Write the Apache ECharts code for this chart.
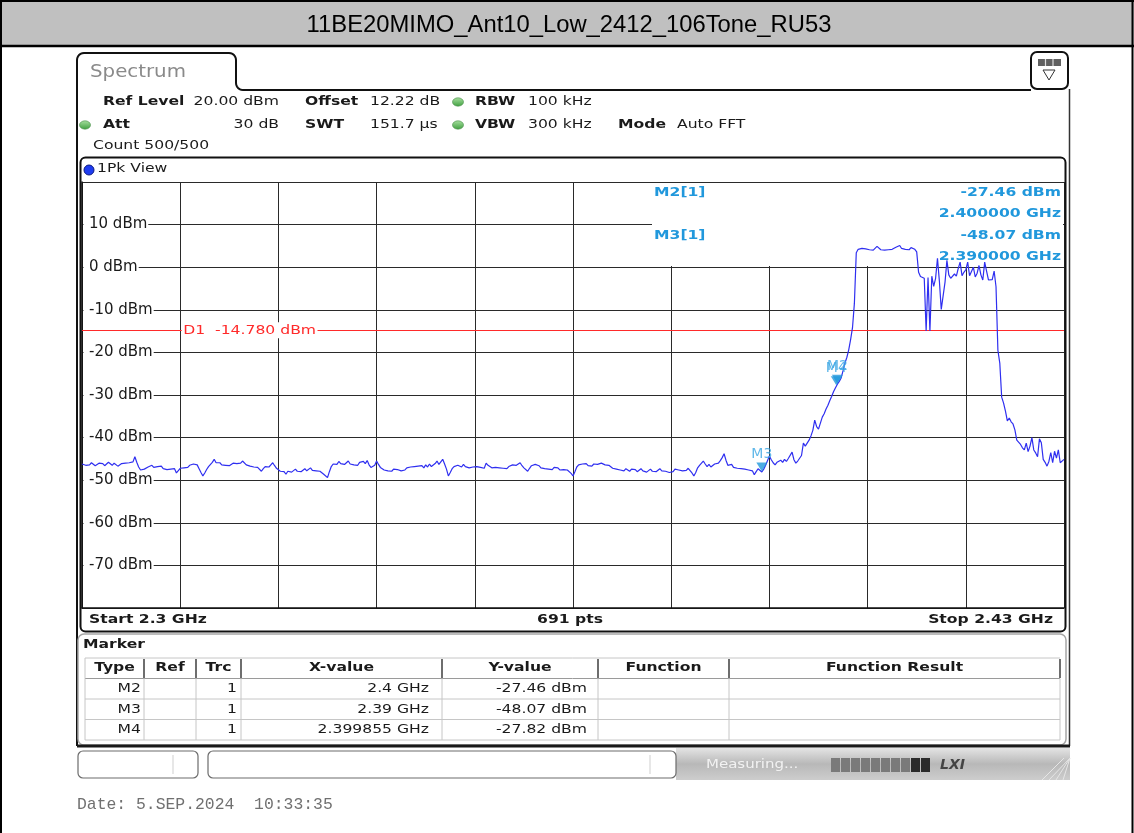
<!DOCTYPE html>
<html>
<head>
<meta charset="utf-8">
<title>11BE20MIMO_Ant10_Low_2412_106Tone_RU53</title>
<script src="https://cdn.jsdelivr.net/npm/echarts@6/dist/echarts.min.js"></script>
<style>
  html, body { margin: 0; padding: 0; background: #fff; }
  #chart { width: 1134px; height: 833px; }
</style>
</head>
<body>
<div id="chart"></div>
<script>
// ---- measurement values ----
const plotTitle = '11BE20MIMO_Ant10_Low_2412_106Tone_RU53';
const sweepStartGHz = 2.3;
const sweepStopGHz = 2.43;
const sweepPoints = 691;
const traceStepMHz = 0.25;
const levelMaxDbm = 20;
const levelMinDbm = -80;
const levelStepDb = 10;
const d1LevelDbm = -14.78;

const markerNames = ['M2', 'M3', 'M4'];
const markerFreqGHz = [2.4, 2.39, 2.399855];
const markerLevelDbm = [-27.46, -48.07, -27.82];
const markerTraceNo = [1, 1, 1];

// max-peak trace, one value every 0.25 MHz from the start frequency
const traceDbm = [
  -46.2,-46.0,-46.5,-46.1,-46.4,-45.9,-46.3,-46.6,-46.2,-46.0,-46.4,-46.1,-46.6,-46.3,-45.8,-46.2,-46.5,-46.0,-46.3,-46.7,
  -46.4,-46.1,-46.5,-46.0,-46.3,-45.9,-46.2,-45.7,-44.5,-45.8,-46.9,-47.6,-47.8,-47.4,-47.6,-46.9,-47.2,-46.5,-47.0,-46.6,
  -46.8,-47.2,-46.7,-47.3,-47.0,-47.5,-47.1,-47.4,-47.8,-47.3,-48.3,-47.9,-47.2,-47.5,-47.1,-47.4,-47.0,-46.5,-46.8,-46.2,
  -45.9,-46.4,-47.3,-48.2,-49.0,-48.3,-47.5,-46.8,-46.4,-45.8,-45.1,-45.9,-46.3,-45.9,-46.4,-46.0,-46.5,-46.1,-46.6,-46.2,
  -46.0,-46.4,-46.1,-46.5,-46.0,-45.5,-45.9,-46.4,-46.0,-46.7,-46.3,-46.9,-46.5,-47.0,-47.4,-47.9,-47.3,-46.8,-46.4,-46.9,
  -46.4,-45.9,-46.6,-47.2,-47.6,-47.9,-47.5,-48.0,-48.6,-47.9,-47.6,-48.1,-47.7,-47.4,-47.9,-47.5,-48.0,-47.6,-47.3,-47.8,
  -47.5,-47.1,-47.7,-47.3,-47.8,-47.4,-47.9,-48.2,-48.6,-49.0,-49.4,-48.0,-46.8,-46.2,-45.8,-46.3,-45.6,-46.1,-45.7,-46.3,
  -46.0,-45.5,-46.2,-45.9,-46.4,-46.0,-46.5,-45.8,-46.2,-45.6,-46.1,-45.4,-46.4,-47.0,-47.3,-46.5,-45.5,-46.3,-47.0,-47.4,
  -47.6,-47.3,-47.8,-47.5,-47.9,-47.4,-47.7,-47.5,-47.2,-47.8,-47.4,-47.6,-47.1,-47.5,-46.9,-47.3,-46.8,-47.2,-46.7,-47.0,
  -46.6,-47.1,-46.4,-46.9,-46.2,-46.8,-46.6,-46.1,-45.5,-46.3,-45.9,-45.1,-46.2,-47.4,-49.0,-48.2,-47.3,-46.8,-47.0,-46.5,
  -46.4,-46.9,-46.3,-46.8,-46.5,-47.1,-46.7,-46.9,-46.5,-46.8,-46.6,-47.0,-46.7,-47.2,-46.0,-46.5,-46.9,-47.1,-46.7,-47.0,
  -46.7,-47.1,-46.8,-47.2,-46.9,-47.3,-46.8,-47.0,-46.4,-46.8,-46.5,-46.2,-45.9,-46.6,-47.1,-47.5,-47.9,-47.2,-46.6,-46.2,
  -46.3,-45.9,-46.6,-47.1,-46.8,-47.3,-47.0,-47.4,-47.1,-47.5,-47.0,-47.3,-47.1,-47.6,-47.2,-47.5,-47.1,-47.6,-47.9,-48.4,
  -49.0,-48.0,-46.9,-46.4,-46.6,-46.2,-46.5,-46.1,-46.6,-46.3,-46.7,-46.2,-45.8,-46.3,-46.5,-46.0,-45.8,-46.4,-46.7,-46.5,
  -46.9,-47.2,-46.8,-47.4,-47.0,-47.6,-47.2,-47.8,-47.3,-47.6,-47.9,-47.4,-47.8,-47.5,-48.0,-47.6,-47.3,-47.8,-47.5,-48.1,
  -47.7,-47.4,-47.9,-47.5,-48.0,-47.6,-47.3,-47.8,-47.5,-47.9,-47.6,-48.2,-48.6,-48.0,-47.4,-47.1,-47.6,-47.3,-47.8,-47.4,
  -47.7,-47.2,-47.6,-48.3,-49.0,-48.2,-47.1,-46.5,-46.1,-45.5,-46.2,-46.8,-46.3,-46.9,-46.6,-46.2,-46.5,-46.0,-45.4,-44.7,
  -43.8,-45.3,-46.5,-46.9,-46.3,-47.0,-46.6,-47.2,-46.8,-47.3,-46.9,-47.4,-47.0,-47.6,-47.2,-47.8,-48.7,-48.0,-47.3,-47.6,
  -48.07,-47.4,-46.5,-46.9,-44.3,-45.2,-45.9,-46.4,-45.8,-46.2,-45.3,-45.8,-45.1,-45.6,-44.9,-44.6,-43.4,-45.2,-46.0,-45.5,
  -45.3,-44.2,-41.3,-42.0,-42.2,-40.6,-39.6,-38.3,-35.9,-37.4,-38.0,-37.6,-35.2,-34.4,-33.3,-32.4,-31.3,-30.3,-29.2,-28.3,
  -27.46,-26.8,-26.0,-24.3,-22.5,-21.2,-19.4,-17.0,-14.2,-8.5,3.4,4.2,4.0,4.4,4.8,4.3,4.6,4.1,4.4,4.0,
  4.3,4.9,4.5,4.1,4.4,4.0,4.3,4.1,4.5,4.2,4.4,4.7,4.3,5.1,4.4,4.8,4.2,4.4,4.1,4.6,
  4.4,4.2,3.6,-1.2,-2.2,-2.0,-2.6,-15.0,-2.4,-15.0,-2.1,-4.5,-2.6,2.1,-3.2,-9.9,-10.3,-3.5,1.6,-1.8,
  -2.6,-2.8,-1.6,-2.1,-0.3,1.2,-2.0,-1.2,-0.6,1.2,-2.0,-1.6,0.0,-2.3,-1.4,0.4,-1.8,-3.0,1.2,-0.9,
  -3.0,-3.2,-2.9,-0.9,-4.6,-19.5,-22.5,-30.5,-31.9,-33.8,-36.1,-35.4,-36.3,-36.8,-38.2,-40.6,-40.9,-41.6,-42.4,-42.9,
  -41.3,-43.3,-42.0,-40.0,-42.9,-43.6,-44.5,-40.3,-41.2,-45.1,-45.8,-46.7,-45.6,-43.5,-45.9,-43.2,-44.8,-42.9,-45.9,-45.6,
  -45.1
];

// ---- derived helpers ----
const spanMHz = Math.round((sweepStopGHz - sweepStartGHz) * 1e6) / 1e3;
const toOffsetMHz = f => Math.round((f - sweepStartGHz) * 1e9) / 1e6;
const traceData = traceDbm.map((v, i) => [i * traceStepMHz, v]);
const markerData = markerNames.map((n, i) => [toOffsetMHz(markerFreqGHz[i]), markerLevelDbm[i], n]);

const FONT = 'DejaVu Sans';
const MARK_BLUE = '#2198dc';
const TEXT_SX = 1.2;   // instrument font is rendered slightly wide

const chart = echarts.init(document.getElementById('chart'), null, { renderer: 'canvas' });

chart.setOption({
  animation: false,
  backgroundColor: '#fff',
  grid: { left: 82, top: 182, width: 982, height: 426, containLabel: false },
  xAxis: {
    type: 'value', min: 0, max: spanMHz, interval: spanMHz / 10, z: 0,
    axisLine: { show: true, onZero: false, lineStyle: { color: '#111', width: 1.5 } },
    axisTick: { show: false }, axisLabel: { show: false },
    splitLine: { show: true, lineStyle: { color: '#2a2a2a', width: 1 } }
  },
  yAxis: [
    {
      type: 'value', min: levelMinDbm, max: levelMaxDbm, interval: levelStepDb, z: 0,
      axisLine: { show: true, onZero: false, lineStyle: { color: '#111', width: 1.5 } },
      axisTick: { show: false }, axisLabel: { show: false },
      splitLine: { show: true, lineStyle: { color: '#2a2a2a', width: 1 } }
    },
    {
      type: 'value', min: levelMinDbm, max: levelMaxDbm, interval: levelStepDb, position: 'left', z: 1,
      axisLine: { show: false, onZero: false }, axisTick: { show: false }, splitLine: { show: false },
      axisLabel: {
        inside: true, margin: 1.5, showMinLabel: false, showMaxLabel: false,
        color: '#1a1a1a', fontFamily: FONT, fontSize: 15,
        backgroundColor: '#fff', padding: [1, 1, 1, 5.5],
        formatter: v => (v === levelMaxDbm || v === levelMinDbm) ? '' : v + ' dBm'
      }
    }
  ],
  series: [
    {
      name: 'Trace 1', type: 'line', data: traceData, z: 2,
      showSymbol: false, symbol: 'none', smooth: false,
      lineStyle: { color: '#2f2ff0', width: 1.2 },
      markLine: {
        silent: true, symbol: 'none', z: 2,
        lineStyle: { color: '#ff2a2a', width: 1, type: 'solid' },
        label: { show: false },
        data: [{ yAxis: d1LevelDbm }]
      }
    },
    {
      name: 'Markers', type: 'scatter', data: markerData, z: 4,
      symbol: 'triangle', symbolRotate: 180, symbolSize: [11, 9], symbolOffset: [0, -5],
      itemStyle: { color: MARK_BLUE },
      label: {
        show: true, position: 'top', distance: 1,
        color: '#3aa6e4', fontFamily: FONT, fontSize: 14,
        formatter: p => p.data[2]
      }
    }
  ]
});

// ---- instrument panel drawn around the plot ----
const el = [];
const measureCtx = document.createElement('canvas').getContext('2d');
function textWidth(text, size, bold) {
  measureCtx.font = `${bold ? 'bold ' : ''}${size}px "${FONT}"`;
  return measureCtx.measureText(text).width * TEXT_SX;
}
function txt(x, y, text, o = {}) {
  el.push({
    type: 'text', x, y, scaleX: o.sx ?? TEXT_SX, z: o.z ?? 5, silent: true,
    style: {
      text, fill: o.color || '#1a1a1a',
      fontSize: o.size || 13, fontWeight: o.bold ? 'bold' : 'normal',
      fontStyle: o.italic ? 'italic' : 'normal', fontFamily: o.family || FONT,
      textAlign: o.align || 'left', textVerticalAlign: 'middle'
    }
  });
}
function line(x1, y1, x2, y2, color, w, z) {
  el.push({ type: 'line', z: z ?? 4, silent: true, shape: { x1, y1, x2, y2 }, style: { stroke: color, lineWidth: w } });
}
function rect(x, y, w, h, o = {}) {
  el.push({ type: 'rect', z: o.z ?? 4, silent: true, shape: { x, y, width: w, height: h, r: o.r || 0 },
    style: { fill: o.fill || 'none', stroke: o.stroke || 'none', lineWidth: o.lw || 1 } });
}
function greenDot(cx, cy) {
  el.push({ type: 'ellipse', z: 5, silent: true, shape: { cx, cy, rx: 5.5, ry: 4.2 },
    style: { fill: { type: 'linear', x: 0, y: 0, x2: 0, y2: 1,
      colorStops: [{ offset: 0, color: '#a8e0a0' }, { offset: 1, color: '#3f9f3f' }] },
      stroke: '#4b8f4b', lineWidth: 0.6 } });
}
// quarter-circle corner points for polylines
function corner(cx, cy, r, a0, a1) {
  const pts = [];
  for (let k = 0; k <= 6; k++) {
    const a = (a0 + (a1 - a0) * k / 6) * Math.PI / 180;
    pts.push([cx + r * Math.cos(a), cy + r * Math.sin(a)]);
  }
  return pts;
}

// page frame and title bar
rect(0, 0, 1134, 46, { fill: '#c0c0c0', z: 1 });
line(0, 1, 1134, 1, '#000', 2, 6);
line(0, 46, 1134, 46, '#000', 2.5, 6);
line(1, 0, 1, 833, '#000', 2, 6);
line(1132.5, 0, 1132.5, 833, '#000', 2, 6);
txt(569, 25, plotTitle, { size: 23.8, family: 'Liberation Sans', align: 'center', color: '#000', sx: 1 });

// tab outline + outer screen border
const tabPts = [[77, 746]]
  .concat(corner(84, 60, 7, 180, 270))
  .concat(corner(229, 60, 7, 270, 360))
  .concat(corner(243, 83, 7, 180, 90))
  .concat([[1031, 90]]);
el.push({ type: 'polyline', z: 4, silent: true, shape: { points: tabPts },
  style: { fill: 'none', stroke: '#111', lineWidth: 2 } });
line(1069.5, 89, 1069.5, 746, '#333', 1.5);
txt(90, 72, 'Spectrum', { size: 18, sx: 1.1, color: '#8a8a8a' });

// settings icon box
rect(1031, 52, 37, 37, { r: 6, stroke: '#111', lw: 2, fill: '#fff', z: 5 });
rect(1038, 59, 23, 7, { fill: '#606060', z: 6 });
line(1045.5, 59, 1045.5, 66, '#ddd', 1.2, 7);
line(1053, 59, 1053, 66, '#ddd', 1.2, 7);
el.push({ type: 'polygon', z: 6, silent: true, shape: { points: [[1043, 70], [1055, 70], [1049, 80]] },
  style: { fill: 'none', stroke: '#333', lineWidth: 1 } });

// sweep settings
txt(103, 102, 'Ref Level', { bold: true });
txt(279, 102, '20.00 dBm', { align: 'right' });
txt(305, 102, 'Offset', { bold: true });
txt(370, 102, '12.22 dB');
greenDot(458, 102);
txt(475, 102, 'RBW', { bold: true });
txt(528, 102, '100 kHz');
greenDot(85, 125);
txt(103, 125, 'Att', { bold: true });
txt(279, 125, '30 dB', { align: 'right' });
txt(305, 125, 'SWT', { bold: true });
txt(370, 125, '151.7 µs');
greenDot(458, 125);
txt(475, 125, 'VBW', { bold: true });
txt(528, 125, '300 kHz');
txt(618, 125, 'Mode', { bold: true });
txt(677, 125, 'Auto FFT');
txt(93, 146, 'Count 500/500');

// diagram frame
rect(80.5, 157.5, 985, 474, { r: 5, stroke: '#111', lw: 2, z: 4 });
el.push({ type: 'circle', z: 5, silent: true, shape: { cx: 89, cy: 170, r: 5 },
  style: { fill: '#1e3cf0', stroke: '#0c1a80', lineWidth: 1 } });
txt(97, 169, '1Pk View');
txt(89, 620, `Start ${sweepStartGHz} GHz`, { bold: true });
txt(570, 620, `${sweepPoints} pts`, { bold: true, align: 'center' });
txt(1053, 620, `Stop ${sweepStopGHz} GHz`, { bold: true, align: 'right' });

// marker readout area in the upper right of the diagram
rect(652, 183, 411, 83, { fill: '#fff', z: 1 });
[0, 1].forEach(i => {
  const y0 = 193 + i * 43;
  txt(654, y0, `${markerNames[i]}[${markerTraceNo[i]}]`, { bold: true, color: MARK_BLUE });
  txt(1061, y0, `${markerLevelDbm[i].toFixed(2)} dBm`, { bold: true, color: MARK_BLUE, align: 'right' });
  txt(1061, y0 + 21, `${markerFreqGHz[i].toFixed(6)} GHz`, { bold: true, color: MARK_BLUE, align: 'right' });
});

// marker table
rect(78, 634, 988, 111, { r: 6, stroke: '#a6a6a6', lw: 1.5, z: 4 });
txt(83, 645, 'Marker', { bold: true });
const colX = [85, 144, 196, 241, 442, 598, 729, 1060];
const colHead = ['Type', 'Ref', 'Trc', 'X-value', 'Y-value', 'Function', 'Function Result'];
const rowY = [658, 678.5, 699, 719.5, 740];
rowY.forEach((y, k) => line(85, y, 1060, y, k === 1 ? '#9a9a9a' : '#c6c6c6', 1));
colX.forEach(x => line(x, 678.5, x, 740, '#c6c6c6', 1));
line(85, 658, 85, 678.5, '#c6c6c6', 1);
colX.slice(1).forEach(x => line(x, 659, x, 678, '#4a4a4a', 1.6, 5));
colHead.forEach((h, c) => txt((colX[c] + colX[c + 1]) / 2, 668, h, { bold: true, align: 'center' }));
markerNames.forEach((n, r) => {
  const y = 689 + r * 20.5;
  txt(141, y, n, { align: 'right' });
  txt(237, y, String(markerTraceNo[r]), { align: 'right' });
  txt(429, y, `${markerFreqGHz[r]} GHz`, { align: 'right' });
  txt(587, y, `${markerLevelDbm[r].toFixed(2)} dBm`, { align: 'right' });
});

// status bar
line(77, 746, 1070, 746, '#1a1a1a', 3, 6);
rect(676, 748, 394, 32, { z: 3, fill: { type: 'linear', x: 0, y: 0, x2: 0, y2: 1,
  colorStops: [{ offset: 0, color: '#e4e4e4' }, { offset: 0.5, color: '#b8b8b8' }, { offset: 1, color: '#cdcdcd' }] } });
rect(78, 751, 120, 27, { r: 5, stroke: '#6c6c6c', lw: 1.2, fill: '#fff' });
line(173, 755, 173, 774, '#cfcfcf', 1);
rect(208, 751, 468, 27, { r: 5, stroke: '#6c6c6c', lw: 1.2, fill: '#fff' });
line(650, 755, 650, 774, '#cfcfcf', 1);
txt(706, 765, 'Measuring...', { size: 12.5, color: '#f2f2f2' });
for (let s = 0; s < 10; s++) {
  rect(831 + s * 10, 758, 9, 14, { fill: s >= 8 ? '#2a2a2a' : '#7a7a7a', z: 5 });
}
txt(940, 765, 'LXI', { size: 14, bold: true, italic: true, color: '#444', sx: 1 });
for (let s = 0; s < 4; s++) line(1042 + s * 7, 780, Math.min(1064 + s * 7, 1070), 758, '#e6e6e6', 1, 4);

// time stamp
txt(77, 805, 'Date: 5.SEP.2024  10:33:35', { size: 16.4, family: 'Liberation Mono', color: '#707070', sx: 1 });

// display line label, anchored on the D1 level at the first vertical division
const d1Text = `D1  ${d1LevelDbm.toFixed(3)} dBm`;
const d1Pos = chart.convertToPixel({ gridIndex: 0 }, [spanMHz / 10, d1LevelDbm]);
const d1W = textWidth(d1Text, 13, false);
rect(d1Pos[0] + 1.5, d1Pos[1] - 8, d1W + 3, 16, { fill: '#fff', z: 8 });
txt(d1Pos[0] + 3, d1Pos[1], d1Text, { color: '#ff2a2a', z: 9 });

chart.setOption({ graphic: { elements: el } });
</script>
</body>
</html>
